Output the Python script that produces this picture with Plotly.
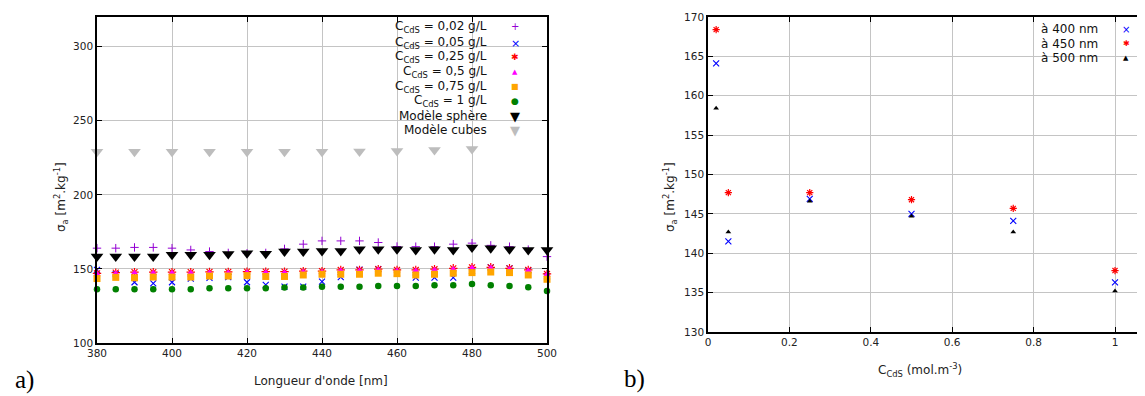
import plotly.graph_objects as go

# ---------------- data ----------------
wavelengths = list(range(380, 505, 5))
c_002 = [164.0, 164.0, 164.5, 164.5, 164.0, 162.8, 161.7, 160.8, 160.5, 160.8, 163.5, 166.7, 168.9,
         168.9, 168.9, 167.8, 165.1, 165.0, 165.0, 166.7, 167.4, 165.9, 165.0, 163.0, 158.3]
c_005 = [149.3, 146.5, 141.0, 140.3, 141.0, 143.5, 144.0, 144.5, 141.0, 139.2, 138.1, 138.1, 141.4,
         144.5, 149.5, 149.8, 147.0, 144.1, 144.1, 144.1, 148.5, 151.0, 150.4, 149.0, 145.0]
c_025 = [147.0, 147.5, 147.8, 147.8, 147.8, 147.8, 148.0, 148.0, 148.2, 148.2, 148.2, 148.5, 148.5,
         149.3, 149.3, 149.8, 149.3, 149.3, 149.8, 150.4, 151.1, 151.1, 150.4, 149.3, 146.6]
c_05 = [146.6, 147.1, 147.4, 147.4, 147.4, 147.4, 147.6, 147.6, 147.8, 147.8, 147.8, 148.1, 148.1,
        148.9, 148.9, 149.4, 148.9, 148.9, 149.4, 150.0, 150.7, 150.7, 150.0, 148.9, 146.2]
c_075 = [143.5, 144.3, 144.0, 144.5, 144.5, 144.5, 145.2, 145.2, 145.5, 144.9, 144.9, 145.9, 146.4,
         146.4, 146.4, 147.1, 146.8, 145.9, 146.4, 147.1, 147.5, 147.9, 147.5, 145.9, 143.0]
c_1 = [136.3, 136.3, 136.3, 136.3, 136.3, 136.3, 136.9, 136.9, 136.9, 136.9, 137.4, 137.4, 138.0,
       138.0, 138.0, 138.5, 138.5, 138.5, 138.9, 138.9, 139.9, 139.0, 138.5, 137.6, 135.1]
sphere = [158.3, 158.3, 158.3, 158.3, 159.5, 159.5, 159.5, 160.1, 160.6, 160.3, 161.7, 161.7, 162.1,
          162.1, 163.3, 163.3, 163.3, 162.8, 163.3, 162.8, 164.4, 164.0, 163.3, 162.8, 162.8]
cube_wavelengths = list(range(380, 490, 10))
cubes = [229.0, 229.0, 229.0, 229.0, 229.0, 229.0, 229.0, 229.3, 229.5, 230.3, 231.0]

concentrations = [0.02, 0.05, 0.25, 0.5, 0.75, 1.0]
s_400 = [164.1, 141.5, 146.9, 145.0, 144.1, 136.3]
s_450 = [168.4, 147.7, 147.7, 146.8, 145.7, 137.8]
s_500 = [158.4, 142.7, 146.6, 144.7, 142.7, 135.2]

left_labels = ["C<sub>CdS</sub> = 0,02 g/L", "C<sub>CdS</sub> = 0,05 g/L", "C<sub>CdS</sub> = 0,25 g/L",
               "C<sub>CdS</sub> = 0,5 g/L", "C<sub>CdS</sub> = 0,75 g/L", "C<sub>CdS</sub> = 1 g/L",
               "Modèle sphère", "Modèle cubes"]
right_labels = ["à 400 nm", "à 450 nm", "à 500 nm"]

# ---------------- styles ----------------
OFF = 8                      # default page margin of the html body
W, H = 1145 - OFF, 396 - OFF
FONT = "DejaVu Sans"
PURPLE, BLUE, RED, MAG, ORANGE, GREEN, BLACK, GRAY = (
    "#9400d3", "#0000ff", "#ff0000", "#ff00ff", "#ffa500", "#008000", "#000000", "#bdbdbd")

def px_x(p):
    return (p - OFF) / W

def px_y(p):
    return 1 - (p - OFF) / H

fig = go.Figure()

left_series = [
    (c_002, dict(symbol="cross-thin", size=6, color=PURPLE, line=dict(color=PURPLE, width=1))),
    (c_005, dict(symbol="x-thin", size=6, color=BLUE, line=dict(color=BLUE, width=1.1))),
    (c_025, dict(symbol="asterisk", size=7, color=RED, line=dict(color=RED, width=1.2))),
    (c_05, dict(symbol="triangle-up", size=6, color=MAG, line=dict(width=0))),
    (c_075, dict(symbol="square", size=7, color=ORANGE, line=dict(width=0))),
    (c_1, dict(symbol="circle", size=6.5, color=GREEN, line=dict(width=0))),
    (sphere, dict(symbol="triangle-down", size=11, color=BLACK, line=dict(width=0))),
]
for vals, mk in left_series:
    fig.add_trace(go.Scatter(x=wavelengths, y=vals, mode="markers", marker=mk,
                             xaxis="x", yaxis="y", showlegend=False, cliponaxis=False))
fig.add_trace(go.Scatter(x=cube_wavelengths, y=cubes, mode="markers",
                         marker=dict(symbol="triangle-down", size=11, color=GRAY, line=dict(width=0)),
                         xaxis="x", yaxis="y", showlegend=False, cliponaxis=False))

right_series = [
    (s_400, dict(symbol="x-thin", size=6, color=BLUE, line=dict(color=BLUE, width=1.1))),
    (s_450, dict(symbol="asterisk", size=6, color=RED, line=dict(color=RED, width=1.2))),
    (s_500, dict(symbol="triangle-up", size=5, color=BLACK, line=dict(width=0))),
]
for vals, mk in right_series:
    fig.add_trace(go.Scatter(x=concentrations, y=vals, mode="markers", marker=mk,
                             xaxis="x2", yaxis="y2", showlegend=False, cliponaxis=False))

axis_common = dict(showline=True, linecolor="black", linewidth=1.5, ticks="inside", ticklen=5,
                   tickcolor="black", showgrid=True, gridcolor="#c4c4c4", gridwidth=1.3,
                   zeroline=False, automargin=False,
                   tickfont=dict(family=FONT, size=10.5, color="#222"))

fig.update_layout(
    template="none",
    width=W, height=H, margin=dict(l=0, r=0, t=0, b=0, pad=0, autoexpand=False),
    paper_bgcolor="white", plot_bgcolor="white", showlegend=False,
    xaxis=dict(axis_common, domain=[px_x(97), px_x(547)], range=[380, 500], dtick=20,
               mirror="ticks", anchor="y"),
    yaxis=dict(axis_common, domain=[px_y(343), px_y(17)], range=[100, 320], dtick=50,
               tick0=100, mirror="ticks", anchor="x"),
    xaxis2=dict(axis_common, domain=[px_x(708), 1.0], range=[0, 1.0737], dtick=0.2, tick0=0,
                mirror="ticks", anchor="y2"),
    yaxis2=dict(axis_common, domain=[px_y(332), px_y(17)], range=[130, 170], dtick=5,
                tick0=130, mirror=False, anchor="x2"),
)

shapes = [
    dict(type="rect", xref="paper", yref="paper", x0=px_x(384), x1=px_x(546), y0=px_y(136),
         y1=px_y(18), fillcolor="white", line=dict(width=0), layer="between"),
    dict(type="rect", xref="paper", yref="paper", x0=px_x(1035), x1=1.0, y0=px_y(65),
         y1=px_y(18), fillcolor="white", line=dict(width=0), layer="between"),
]
fig.update_layout(shapes=shapes)


def note(text, x, y, size, color="#222", family=FONT, xanchor="center", angle=0):
    return dict(text=text, x=px_x(x), y=px_y(y), xref="paper", yref="paper", showarrow=False,
                xanchor=xanchor, yanchor="middle", textangle=angle,
                font=dict(family=family, size=size, color=color))


ann = []
# axis titles
ann.append(note("Longueur d'onde [nm]", 321, 381, 12))
ann.append(note("C<sub>CdS</sub> (mol.m<sup>-3</sup>)", 920, 370, 12))
ann.append(note("σ<sub>a</sub> [m<sup>2</sup>.kg<sup>-1</sup>]", 61, 197, 12, angle=-90))
ann.append(note("σ<sub>a</sub> [m<sup>2</sup>.kg<sup>-1</sup>]", 670, 197, 12, angle=-90))
# panel letters
ann.append(note("a)", 24, 380, 25, color="black", family="Liberation Serif"))
ann.append(note("b)", 634, 379, 25, color="black", family="Liberation Serif"))

# left legend (text right-aligned, key on the right)
left_rows = [26.7, 43.3, 57.3, 71.7, 86.7, 100.5, 116, 130]
left_keys = [("+", PURPLE, 10), ("×", BLUE, 11), ("✱", RED, 9), ("▲", MAG, 7), ("■", ORANGE, 8),
             ("●", GREEN, 9), ("▼", BLACK, 13), ("▼", GRAY, 13)]
for lab, yy, (g, col, gs) in zip(left_labels, left_rows, left_keys):
    ann.append(note(lab, 489, yy, 12, color="#111", xanchor="right"))
    ann.append(note(g, 515, yy, gs, color=col))

right_rows = [29, 43.5, 57.5]
right_keys = [("×", BLUE, 10), ("✱", RED, 8), ("▲", BLACK, 7)]
for lab, yy, (g, col, gs) in zip(right_labels, right_rows, right_keys):
    ann.append(note(lab, 1100, yy, 12, color="#111", xanchor="right"))
    ann.append(note(g, 1126, yy, gs, color=col))

fig.update_layout(annotations=ann)
fig.write_html("out.html")
